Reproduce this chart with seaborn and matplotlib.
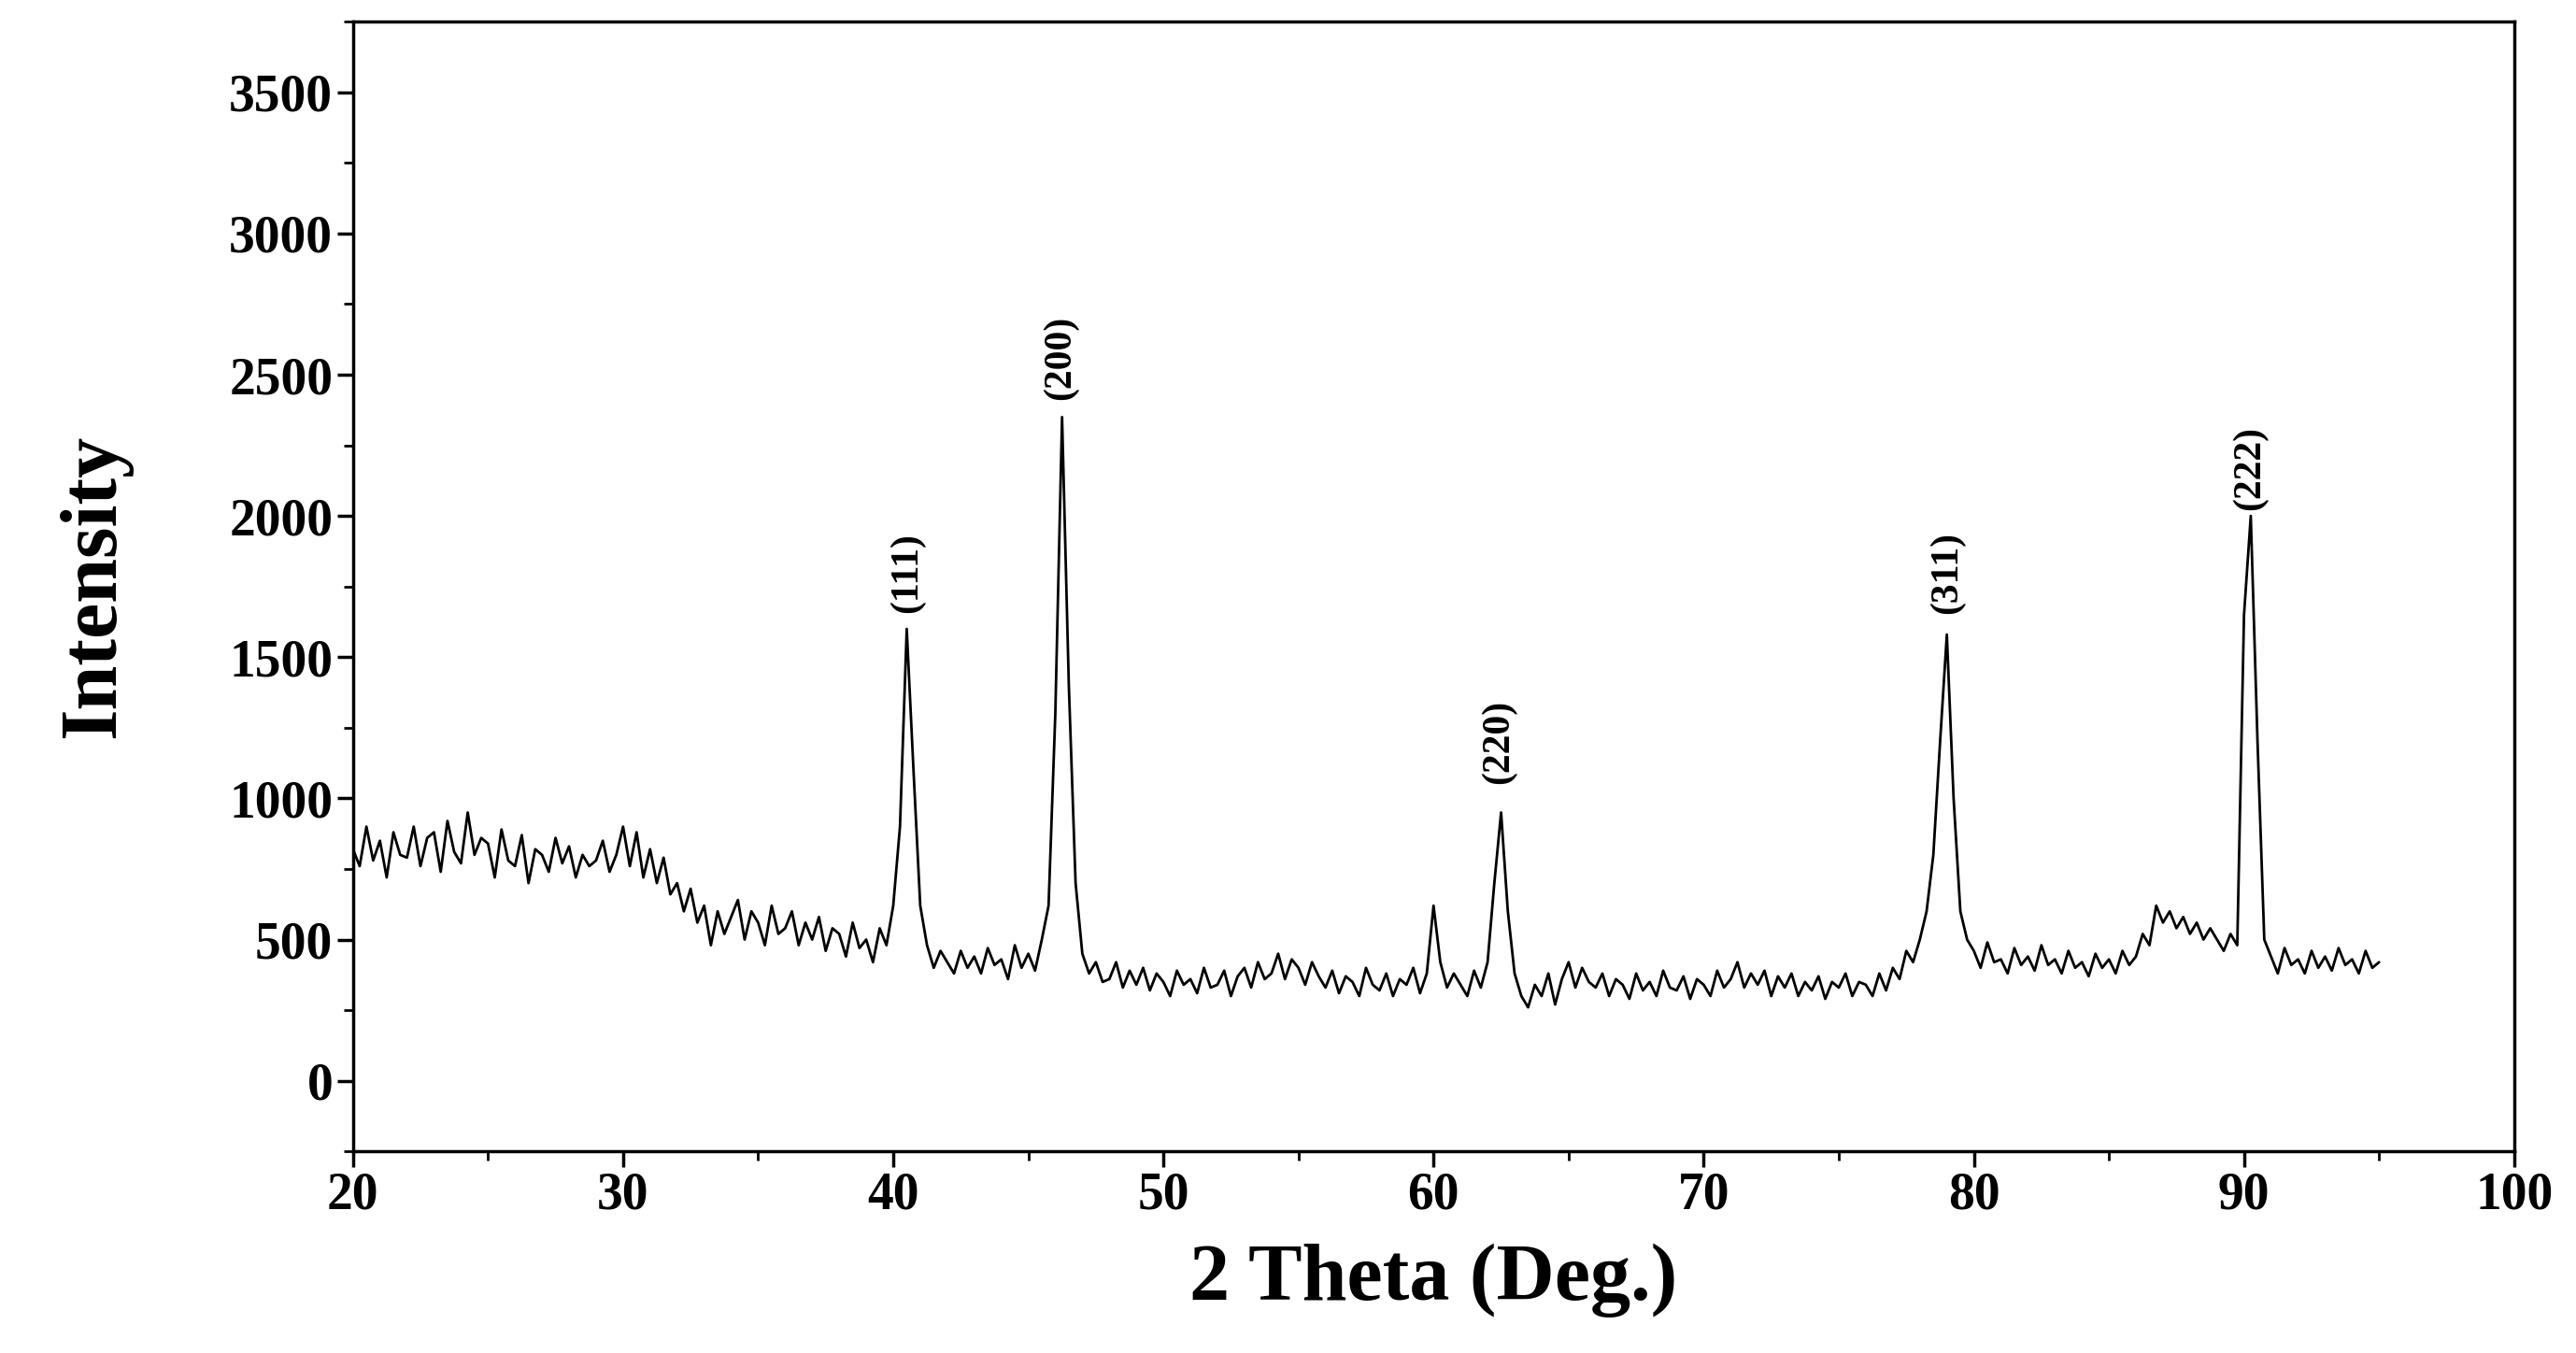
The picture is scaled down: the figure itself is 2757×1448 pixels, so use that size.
import numpy as np
import matplotlib
matplotlib.use("Agg")
import matplotlib.pyplot as plt
import seaborn as sns
from matplotlib.ticker import MultipleLocator

sns.set_theme(style="ticks")
plt.rcParams['font.family'] = ['Liberation Serif', 'DejaVu Serif']
plt.rcParams['text.color'] = 'black'
plt.rcParams['axes.labelcolor'] = 'black'
plt.rcParams['xtick.color'] = 'black'
plt.rcParams['ytick.color'] = 'black'
plt.rcParams['axes.edgecolor'] = 'black'

start_deg = 20.0
step_deg = 0.25
intensity = [
 820,760,900,780, 850,720,880,800, 790,900,760,860, 880,740,920,810,
 770,950,800,860, 840,720,890,780, 760,870,700,820, 800,740,860,770,
 830,720,800,760, 780,850,740,800, 900,760,880,720, 820,700,790,660,
 700,600,680,560, 620,480,600,520, 580,640,500,600, 560,480,620,520,
 540,600,480,560, 500,580,460,540, 520,440,560,470, 500,420,540,480,
 620,900,1600,1100, 620,480,400,460, 420,380,460,400, 440,380,470,410,
 430,360,480,400, 450,390,500,620, 1300,2350,1400,700, 450,380,420,350,
 360,420,330,390, 340,400,320,380, 350,300,390,340, 360,310,400,330,
 340,390,300,370, 400,330,420,360, 380,450,360,430, 400,340,420,370,
 330,390,310,370, 350,300,400,340, 320,380,300,360, 340,400,310,380,
 620,420,330,380, 340,300,390,330, 420,700,950,600, 380,300,260,340,
 300,380,270,360, 420,330,400,350, 330,380,300,360, 340,290,380,320,
 350,300,390,330, 320,370,290,360, 340,300,390,330, 360,420,330,380,
 340,390,300,370, 330,380,300,350, 320,370,290,350, 330,380,300,350,
 340,300,380,320, 400,360,460,420, 500,600,800,1200, 1580,1000,600,500,
 460,400,490,420, 430,380,470,410, 440,390,480,410, 430,380,460,400,
 420,370,450,400, 430,380,460,410, 440,520,480,620, 560,600,540,580,
 520,560,500,540, 500,460,520,480, 1650,2000,1200,500, 440,380,470,410,
 430,380,460,400, 440,390,470,410, 430,380,460,400, 420,
]
two_theta = start_deg + step_deg * np.arange(len(intensity))

peak_labels = ["(111)", "(200)", "(220)", "(311)", "(222)"]
peak_x = [40.5, 46.2, 62.4, 79.0, 90.2]
peak_label_y = [1800, 2560, 1200, 1800, 2170]

fig = plt.figure(figsize=(27.57, 14.48), dpi=100)
ax = fig.add_axes([0.137, 0.149, 0.839, 0.835])
sns.lineplot(x=two_theta, y=intensity, ax=ax, color='black', linewidth=2.0)

for lab, x, y in zip(peak_labels, peak_x, peak_label_y):
    ax.text(x, y, lab, rotation=90, ha='center', va='center', fontsize=30,
            fontweight='bold', family=['Liberation Serif'], color='black')

ax.set_xlim(20, 100)
ax.set_ylim(-250, 3750)
ax.set_xticks(np.arange(20, 101, 10))
ax.set_yticks(np.arange(0, 3501, 500))
ax.xaxis.set_minor_locator(MultipleLocator(5))
ax.yaxis.set_minor_locator(MultipleLocator(250))
ax.tick_params(which='major', direction='out', length=12, width=2.5, labelsize=40)
ax.tick_params(which='minor', direction='out', length=7, width=2)
for lbl in ax.get_xticklabels() + ax.get_yticklabels():
    lbl.set_fontweight('bold')
for s in ax.spines.values():
    s.set_linewidth(2.5)
    s.set_visible(True)
ax.set_xlabel("2 Theta (Deg.)", fontsize=62, fontweight='bold', labelpad=18)
ax.set_ylabel("Intensity", fontsize=62, fontweight='bold', labelpad=75)
fig.savefig("out.png", dpi=100)
